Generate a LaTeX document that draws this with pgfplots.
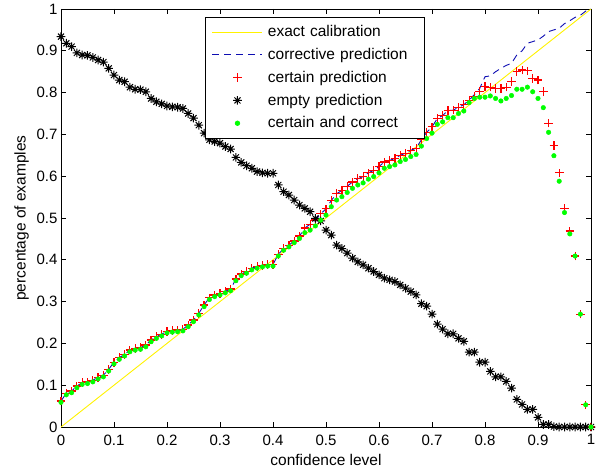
\documentclass[border=0pt]{standalone}
\usepackage{pgfplots}
\usepackage{pgfplotstable}
\pgfplotsset{compat=1.18}
\usepackage{fontspec}
\setmainfont{Liberation Sans}

\pgfdeclareplotmark{mstar}{%
  \pgfpathmoveto{\pgfqpoint{-\pgfplotmarksize}{0pt}}\pgfpathlineto{\pgfqpoint{\pgfplotmarksize}{0pt}}%
  \pgfpathmoveto{\pgfqpoint{0pt}{-\pgfplotmarksize}}\pgfpathlineto{\pgfqpoint{0pt}{\pgfplotmarksize}}%
  \pgfpathmoveto{\pgfqpoint{-0.7\pgfplotmarksize}{-0.7\pgfplotmarksize}}\pgfpathlineto{\pgfqpoint{0.7\pgfplotmarksize}{0.7\pgfplotmarksize}}%
  \pgfpathmoveto{\pgfqpoint{-0.7\pgfplotmarksize}{0.7\pgfplotmarksize}}\pgfpathlineto{\pgfqpoint{0.7\pgfplotmarksize}{-0.7\pgfplotmarksize}}%
  \pgfusepathqstroke}

\pgfdeclareplotmark{mplus}{%
  \pgfpathmoveto{\pgfqpoint{-\pgfplotmarksize}{0pt}}\pgfpathlineto{\pgfqpoint{\pgfplotmarksize}{0pt}}%
  \pgfpathmoveto{\pgfqpoint{0pt}{-\pgfplotmarksize}}\pgfpathlineto{\pgfqpoint{0pt}{\pgfplotmarksize}}%
  \pgfusepathqstroke}

% certain prediction (red +)
\pgfplotstableread{
x y
0 0.062
0.01 0.081
0.02 0.086
0.03 0.098
0.04 0.106
0.05 0.108
0.06 0.112
0.07 0.119
0.08 0.124
0.09 0.138
0.10 0.155
0.11 0.166
0.12 0.174
0.13 0.184
0.14 0.188
0.15 0.190
0.16 0.196
0.17 0.208
0.18 0.216
0.19 0.222
0.20 0.229
0.21 0.231
0.22 0.232
0.23 0.234
0.24 0.244
0.25 0.256
0.26 0.272
0.27 0.292
0.28 0.309
0.29 0.316
0.30 0.320
0.31 0.325
0.32 0.330
0.33 0.354
0.34 0.366
0.35 0.372
0.36 0.380
0.37 0.384
0.38 0.387
0.39 0.389
0.40 0.389
0.41 0.413
0.42 0.427
0.43 0.435
0.44 0.445
0.45 0.457
0.46 0.476
0.47 0.485
0.48 0.495
0.49 0.510
0.50 0.522
0.51 0.542
0.52 0.558
0.53 0.566
0.54 0.576
0.55 0.586
0.56 0.594
0.57 0.599
0.58 0.608
0.59 0.614
0.60 0.623
0.61 0.634
0.62 0.638
0.63 0.642
0.64 0.650
0.65 0.655
0.66 0.662
0.67 0.667
0.68 0.687
0.69 0.705
0.70 0.718
0.71 0.738
0.72 0.745
0.73 0.757
0.74 0.758
0.75 0.765
0.76 0.771
0.77 0.782
0.78 0.790
0.79 0.802
0.80 0.814
0.81 0.813
0.82 0.810
0.83 0.810
0.84 0.813
0.85 0.826
0.86 0.850
0.87 0.854
0.88 0.852
0.89 0.834
0.90 0.830
0.91 0.802
0.92 0.727
0.93 0.673
0.94 0.608
0.95 0.523
0.96 0.469
0.97 0.409
0.98 0.270
0.99 0.053
1.00 0.000
}\certain

% corrective prediction (blue dashed)
\pgfplotstableread{
x y
0 0.062
0.01 0.081
0.02 0.086
0.03 0.098
0.04 0.106
0.05 0.108
0.06 0.112
0.07 0.119
0.08 0.124
0.09 0.138
0.10 0.155
0.11 0.166
0.12 0.174
0.13 0.184
0.14 0.188
0.15 0.190
0.16 0.196
0.17 0.208
0.18 0.216
0.19 0.222
0.20 0.229
0.21 0.231
0.22 0.232
0.23 0.234
0.24 0.244
0.25 0.256
0.26 0.272
0.27 0.292
0.28 0.309
0.29 0.316
0.30 0.320
0.31 0.325
0.32 0.330
0.33 0.354
0.34 0.366
0.35 0.372
0.36 0.380
0.37 0.384
0.38 0.387
0.39 0.389
0.40 0.389
0.41 0.413
0.42 0.427
0.43 0.435
0.44 0.445
0.45 0.457
0.46 0.476
0.47 0.485
0.48 0.495
0.49 0.510
0.50 0.522
0.51 0.542
0.52 0.558
0.53 0.566
0.54 0.576
0.55 0.586
0.56 0.594
0.57 0.599
0.58 0.608
0.59 0.614
0.60 0.623
0.61 0.634
0.62 0.638
0.63 0.642
0.64 0.650
0.65 0.655
0.66 0.662
0.67 0.667
0.68 0.687
0.69 0.705
0.70 0.718
0.71 0.738
0.72 0.745
0.73 0.757
0.74 0.758
0.75 0.765
0.76 0.771
0.77 0.782
0.78 0.795
0.79 0.810
0.80 0.838
0.81 0.840
0.82 0.850
0.83 0.858
0.84 0.865
0.85 0.870
0.86 0.890
0.87 0.900
0.88 0.918
0.89 0.922
0.90 0.926
0.91 0.935
0.92 0.946
0.93 0.950
0.94 0.954
0.95 0.965
0.96 0.972
0.97 0.980
0.98 0.985
0.99 0.995
1.00 1.000
}\corrective

% empty prediction (black *)
\pgfplotstableread{
x y
0 0.934
0.01 0.918
0.02 0.910
0.03 0.895
0.04 0.890
0.05 0.889
0.06 0.884
0.07 0.878
0.08 0.873
0.09 0.858
0.10 0.842
0.11 0.830
0.12 0.826
0.13 0.813
0.14 0.808
0.15 0.807
0.16 0.802
0.17 0.786
0.18 0.778
0.19 0.773
0.20 0.768
0.21 0.766
0.22 0.765
0.23 0.762
0.24 0.750
0.25 0.739
0.26 0.722
0.27 0.703
0.28 0.687
0.29 0.683
0.30 0.679
0.31 0.671
0.32 0.665
0.33 0.645
0.34 0.633
0.35 0.625
0.36 0.619
0.37 0.611
0.38 0.608
0.39 0.607
0.40 0.607
0.41 0.579
0.42 0.563
0.43 0.555
0.44 0.543
0.45 0.531
0.46 0.523
0.47 0.515
0.48 0.499
0.49 0.493
0.50 0.471
0.51 0.459
0.52 0.435
0.53 0.427
0.54 0.416
0.55 0.404
0.56 0.395
0.57 0.388
0.58 0.380
0.59 0.372
0.60 0.364
0.61 0.356
0.62 0.352
0.63 0.348
0.64 0.340
0.65 0.332
0.66 0.324
0.67 0.316
0.68 0.295
0.69 0.289
0.70 0.270
0.71 0.246
0.72 0.234
0.73 0.223
0.74 0.223
0.75 0.212
0.76 0.205
0.77 0.179
0.78 0.179
0.79 0.155
0.80 0.155
0.81 0.133
0.82 0.120
0.83 0.120
0.84 0.109
0.85 0.093
0.86 0.066
0.87 0.054
0.88 0.042
0.89 0.042
0.90 0.023
0.91 0.006
0.92 0.006
0.93 0.001
0.94 0
0.95 0
0.96 0
0.97 0
0.98 0
0.99 0
1.00 0
}\empty

% certain and correct (green dots)
\pgfplotstableread{
x y
0 0.059
0.01 0.077
0.02 0.082
0.03 0.094
0.04 0.102
0.05 0.104
0.06 0.108
0.07 0.115
0.08 0.120
0.09 0.134
0.10 0.151
0.11 0.162
0.12 0.170
0.13 0.180
0.14 0.184
0.15 0.186
0.16 0.192
0.17 0.204
0.18 0.212
0.19 0.218
0.20 0.225
0.21 0.227
0.22 0.228
0.23 0.230
0.24 0.240
0.25 0.252
0.26 0.268
0.27 0.288
0.28 0.305
0.29 0.312
0.30 0.316
0.31 0.321
0.32 0.326
0.33 0.350
0.34 0.362
0.35 0.368
0.36 0.376
0.37 0.380
0.38 0.383
0.39 0.385
0.40 0.385
0.41 0.409
0.42 0.423
0.43 0.431
0.44 0.441
0.45 0.451
0.46 0.465
0.47 0.471
0.48 0.481
0.49 0.495
0.50 0.507
0.51 0.527
0.52 0.543
0.53 0.551
0.54 0.561
0.55 0.571
0.56 0.579
0.57 0.584
0.58 0.593
0.59 0.599
0.60 0.608
0.61 0.619
0.62 0.623
0.63 0.627
0.64 0.635
0.65 0.640
0.66 0.647
0.67 0.652
0.68 0.672
0.69 0.690
0.70 0.703
0.71 0.724
0.72 0.730
0.73 0.740
0.74 0.740
0.75 0.750
0.76 0.756
0.77 0.776
0.78 0.786
0.79 0.789
0.80 0.789
0.81 0.792
0.82 0.786
0.83 0.780
0.84 0.786
0.85 0.793
0.86 0.808
0.87 0.808
0.88 0.813
0.89 0.802
0.90 0.786
0.91 0.764
0.92 0.705
0.93 0.649
0.94 0.588
0.95 0.513
0.96 0.462
0.97 0.409
0.98 0.270
0.99 0.053
1.00 0.000
}\correct

\definecolor{mblue}{rgb}{0.05,0.05,0.7}

\begin{document}
\begin{tikzpicture}
\begin{axis}[
  name=ax,
  scale only axis,
  width=530pt, height=418pt,
  xmin=0, xmax=1, ymin=0, ymax=1,
  xtick={0,0.1,0.2,0.3,0.4,0.5,0.6,0.7,0.8,0.9,1},
  xticklabels={0,0.1,0.2,0.3,0.4,0.5,0.6,0.7,0.8,0.9,1},
  ytick={0,0.1,0.2,0.3,0.4,0.5,0.6,0.7,0.8,0.9,1},
  yticklabels={0,0.1,0.2,0.3,0.4,0.5,0.6,0.7,0.8,0.9,1},
  /pgf/number format/assume math mode=true,
  tick align=inside,
  major tick length=5pt,
  tick style={black, line width=0.7pt},
  axis line style={line width=0.8pt},
  ticklabel style={font=\fontsize{15}{18}\selectfont},
  xticklabel style={yshift=-4pt},
  label style={font=\fontsize{15.5}{18}\selectfont},
  xlabel={confidence level},
  ylabel={percentage of examples},
  xlabel style={yshift=-2pt},
  ylabel style={yshift=1pt},
  legend image code/.code={\draw[mark repeat=2,mark phase=2,#1] plot coordinates {(0pt,0pt) (25pt,0pt) (50pt,0pt)};},
  legend style={
    at={(0.272,0.981)}, anchor=north west,
    draw=black, line width=0.7pt, fill=white,
    inner xsep=6.5pt, inner ysep=6.5pt,
    column sep=5pt, row sep=6.3pt,
    font=\fontsize{15.5}{18}\selectfont,
    nodes={inner sep=0pt, text height=13pt, text depth=3.5pt, text width=150pt, align=left},
  },
]
\addplot[color=yellow, line width=0.9pt] coordinates {(0,0) (1,1)};
\addlegendentry{exact calibration}
\addplot[color=mblue, line width=0.9pt, dash pattern=on 7pt off 5pt] table[x=x,y=y] {\corrective};
\addlegendentry{corrective prediction}
\addplot[only marks, draw=red, color=red, mark=mplus, mark size=4.3pt, line width=1.2pt, mark options={draw=red, line width=1.2pt}] table[x=x,y=y] {\certain};
\addlegendentry{certain prediction}
\addplot[only marks, color=black, mark=mstar, mark size=4.3pt, line width=1pt] table[x=x,y=y] {\empty};
\addlegendentry{empty prediction}
\addplot[only marks, color=green, mark=*, mark size=2.3pt, mark options={draw=green, fill=green}] table[x=x,y=y] {\correct};
\addlegendentry{certain and correct}
\end{axis}
\path (ax.south west) ++(-61pt,-42pt) coordinate (bl);
\path (ax.north east) ++(9pt,9pt) coordinate (tr);
\path[use as bounding box] (bl) rectangle (tr);
\end{tikzpicture}
\end{document}
